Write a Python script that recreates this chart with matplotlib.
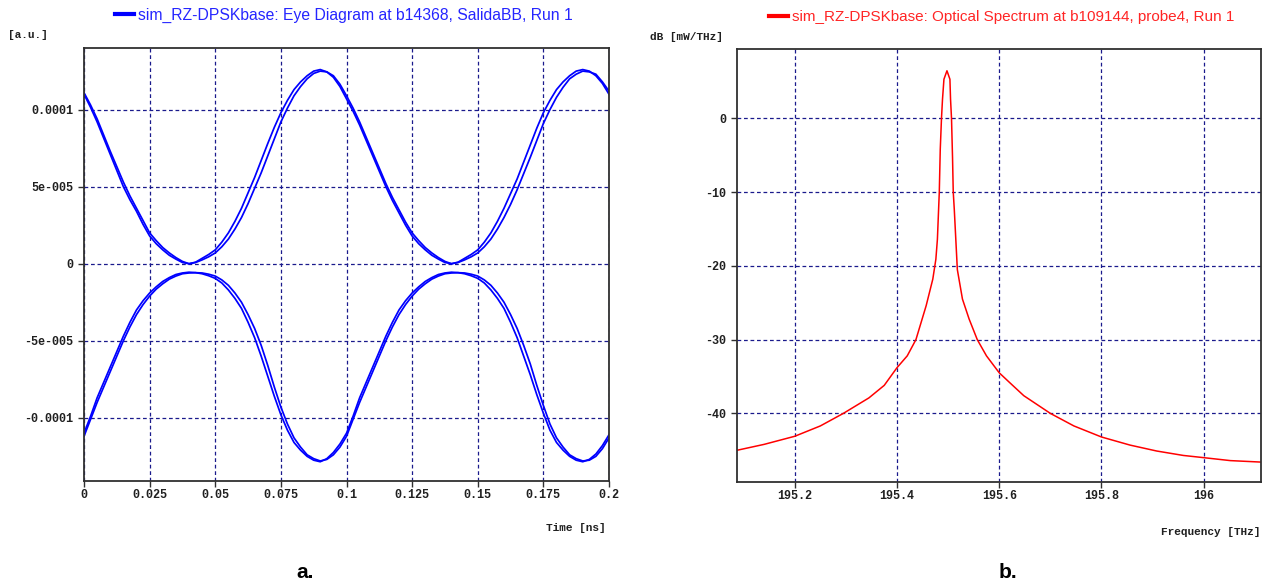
import matplotlib
matplotlib.use("Agg")
import numpy as np
import matplotlib.pyplot as plt
from matplotlib.lines import Line2D

# eye diagram: samples every 2.5 ps over two bit slots, traces in 1e-5 a.u.
t_ns = np.round(np.arange(81) * 0.0025, 4)

upper_a = [11.0, 10.15, 9.2, 8.15, 7.1, 6.05, 5.0, 4.15, 3.4, 2.55,
           1.8, 1.3, 0.9, 0.55, 0.3, 0.08, 0.0, 0.1, 0.35, 0.6,
           0.9, 1.4, 2.0, 2.75, 3.6, 4.6, 5.6, 6.7, 7.8, 8.85,
           9.8, 10.6, 11.3, 11.8, 12.2, 12.5, 12.6, 12.45, 12.1, 11.5,
           10.7,
           9.9, 9.0, 8.0, 7.0, 6.0, 5.0, 4.1, 3.3, 2.5, 1.8,
           1.3, 0.9, 0.55, 0.3, 0.08, 0.0, 0.1, 0.35, 0.6, 0.9,
           1.4, 2.0, 2.75, 3.6, 4.55, 5.5, 6.6, 7.7, 8.8, 9.8,
           10.6, 11.3, 11.8, 12.2, 12.5, 12.6, 12.5, 12.2, 11.7, 11.0]
upper_b = [11.1, 10.3, 9.4, 8.35, 7.3, 6.3, 5.3, 4.4, 3.6, 2.8,
           2.0, 1.5, 1.05, 0.7, 0.4, 0.15, 0.0, 0.08, 0.25, 0.45,
           0.7, 1.1, 1.6, 2.25, 3.0, 3.9, 4.9, 5.9, 7.0, 8.1,
           9.2, 10.1, 10.9, 11.5, 12.0, 12.35, 12.5, 12.45, 12.2, 11.65,
           10.9,
           10.1, 9.2, 8.2, 7.2, 6.2, 5.2, 4.3, 3.5, 2.7, 2.0,
           1.5, 1.05, 0.7, 0.4, 0.15, 0.0, 0.08, 0.25, 0.45, 0.7,
           1.1, 1.6, 2.25, 3.0, 3.85, 4.8, 5.85, 6.9, 8.0, 9.1,
           10.0, 10.8, 11.45, 12.0, 12.3, 12.5, 12.45, 12.3, 11.8, 11.2]
lower_a = [-11.0, -9.9, -8.7, -7.7, -6.7, -5.7, -4.7, -3.8, -3.0, -2.4,
           -1.9, -1.5, -1.15, -0.9, -0.7, -0.6, -0.55, -0.58, -0.65, -0.78,
           -0.95, -1.25, -1.7, -2.25, -2.9, -3.8, -4.8, -6.0, -7.3, -8.6,
           -9.8, -10.8, -11.6, -12.1, -12.5, -12.75, -12.85, -12.65, -12.25, -11.7,
           -11.0,
           -9.9, -8.7, -7.7, -6.7, -5.7, -4.7, -3.8, -3.0, -2.4, -1.9,
           -1.5, -1.15, -0.9, -0.7, -0.6, -0.55, -0.58, -0.65, -0.78, -0.95,
           -1.25, -1.7, -2.25, -2.9, -3.8, -4.8, -6.0, -7.2, -8.5, -9.7,
           -10.8, -11.6, -12.1, -12.5, -12.75, -12.85, -12.7, -12.35, -11.8, -11.1]
lower_b = [-11.2, -10.1, -9.0, -8.0, -7.0, -6.0, -5.0, -4.1, -3.3, -2.65,
           -2.1, -1.65, -1.3, -1.0, -0.8, -0.65, -0.6, -0.58, -0.6, -0.68,
           -0.8, -1.05, -1.4, -1.9, -2.5, -3.3, -4.2, -5.3, -6.6, -8.0,
           -9.3, -10.4, -11.3, -11.9, -12.4, -12.65, -12.8, -12.7, -12.4, -11.9,
           -11.2,
           -10.1, -9.0, -8.0, -7.0, -6.0, -5.0, -4.1, -3.3, -2.65, -2.1,
           -1.65, -1.3, -1.0, -0.8, -0.65, -0.6, -0.58, -0.6, -0.68, -0.8,
           -1.05, -1.4, -1.9, -2.5, -3.3, -4.2, -5.3, -6.5, -7.9, -9.2,
           -10.4, -11.3, -11.9, -12.4, -12.65, -12.8, -12.75, -12.5, -12.0, -11.3]
eye_traces = [upper_a, upper_b, lower_a, lower_b]

eye_yticks = [1e-4, 5e-5, 0, -5e-5, -1e-4]
eye_ylabels = ["0.0001", "5e-005", "0", "-5e-005", "-0.0001"]
eye_xticks = [0, 0.025, 0.05, 0.075, 0.1, 0.125, 0.15, 0.175, 0.2]
eye_xlabels = ["0", "0.025", "0.05", "0.075", "0.1", "0.125", "0.15", "0.175", "0.2"]

# optical spectrum
freq_thz = [195.087, 195.14, 195.2, 195.25, 195.295, 195.345, 195.375, 195.4,
            195.42, 195.437, 195.457, 195.47, 195.476, 195.479, 195.4827,
            195.4846, 195.487, 195.489, 195.4918, 195.4977, 195.5035,
            195.5047, 195.5066, 195.5086, 195.51, 195.512, 195.515, 195.518,
            195.528, 195.541, 195.557, 195.575, 195.6, 195.62, 195.648,
            195.7, 195.746, 195.8, 195.856, 195.908, 195.96, 196.0, 196.052,
            196.112]
power_db = [-45.0, -44.2, -43.1, -41.7, -40.0, -37.9, -36.2, -33.8,
            -32.2, -30.0, -25.4, -21.8, -19.1, -16.4, -10.0,
            -4.2, 0.0, 2.6, 5.3, 6.45, 5.3,
            2.6, 0.0, -5.3, -10.0, -12.3, -16.4, -20.5,
            -24.5, -27.2, -30.0, -32.2, -34.5, -35.8, -37.6,
            -40.0, -41.7, -43.2, -44.3, -45.1, -45.7, -46.0, -46.4,
            -46.6]

spec_yticks = [0, -10, -20, -30, -40]
spec_xticks = [195.2, 195.4, 195.6, 195.8, 196.0]
spec_xlabels = ["195.2", "195.4", "195.6", "195.8", "196"]

MONO = "Liberation Mono"
SANS = "Liberation Sans"
GRID = "#1a1a8c"

W, H = 1263, 587
fig = plt.figure(figsize=(W / 100, H / 100), dpi=100)


def box(x0, y0, x1, y1):
    # pixel box (top-left origin) -> figure fraction rect
    return [x0 / W, 1 - y1 / H, (x1 - x0) / W, (y1 - y0) / H]


def style_axes(ax):
    for s in ax.spines.values():
        s.set_color("#303030")
        s.set_linewidth(1.3)
    ax.tick_params(direction="out", length=4, width=1, color="#303030",
                   labelsize=8.5, labelcolor="#202020")
    ax.tick_params(axis="x", pad=2)
    ax.tick_params(axis="y", pad=4)
    for lab in ax.get_xticklabels() + ax.get_yticklabels():
        lab.set_fontfamily(MONO)
        lab.set_fontweight("bold")
    ax.grid(True, color=GRID, linestyle=(0, (3, 2.2)), linewidth=0.9)
    ax.set_axisbelow(True)


# eye diagram
ax1 = fig.add_axes(box(84, 48, 609, 481))
for tr in eye_traces:
    ax1.plot(t_ns, np.array(tr) * 1e-5, color="#0000ff", lw=1.25)
ax1.set_xlim(0, 0.2)
ax1.set_ylim(-1.41e-4, 1.40e-4)
ax1.set_xticks(eye_xticks)
ax1.set_xticklabels(eye_xlabels)
ax1.set_yticks(eye_yticks)
ax1.set_yticklabels(eye_ylabels)
style_axes(ax1)

# optical spectrum
ax2 = fig.add_axes(box(737, 49, 1261, 482))
ax2.plot(freq_thz, power_db, color="#ff0000", lw=1.1)
ax2.set_xlim(195.087, 196.112)
ax2.set_ylim(-49.3, 9.4)
ax2.set_xticks(spec_xticks)
ax2.set_xticklabels(spec_xlabels)
ax2.set_yticks(spec_yticks)
ax2.set_yticklabels([str(v) for v in spec_yticks])
style_axes(ax2)

# legends above each plot
h1 = Line2D([], [], color="#0000ff", lw=3)
fig.legend([h1], ["sim_RZ-DPSKbase: Eye Diagram at b14368, SalidaBB, Run 1"],
           loc="center", bbox_to_anchor=(344 / W, 1 - 15 / H), frameon=False,
           handlelength=1.2, handletextpad=0.3, borderpad=0,
           prop={"family": SANS, "size": 11.3}, labelcolor="#2525ff")
h2 = Line2D([], [], color="#ff0000", lw=3)
fig.legend([h2], ["sim_RZ-DPSKbase: Optical Spectrum at b109144, probe4, Run 1"],
           loc="center", bbox_to_anchor=(1002 / W, 1 - 17 / H), frameon=False,
           handlelength=1.2, handletextpad=0.3, borderpad=0,
           prop={"family": SANS, "size": 11.0}, labelcolor="#ff2525")

# axis captions
fig.text(8 / W, 1 - 35 / H, "[a.u.]", family=MONO, weight="bold", size=8,
         color="#202020", va="center")
fig.text(650 / W, 1 - 37 / H, "dB [mW/THz]", family=MONO, weight="bold", size=8,
         color="#202020", va="center")
fig.text(606 / W, 1 - 528 / H, "Time [ns]", family=MONO, weight="bold", size=8,
         color="#202020", va="center", ha="right")
fig.text(1260 / W, 1 - 532 / H, "Frequency [THz]", family=MONO, weight="bold",
         size=8, color="#202020", va="center", ha="right")

fig.text(305 / W, 1 - 573 / H, "a.", family=SANS, weight="bold", size=15,
         ha="center", va="center")
fig.text(1008 / W, 1 - 573 / H, "b.", family=SANS, weight="bold", size=15,
         ha="center", va="center")

fig.savefig("out.png", dpi=100)
